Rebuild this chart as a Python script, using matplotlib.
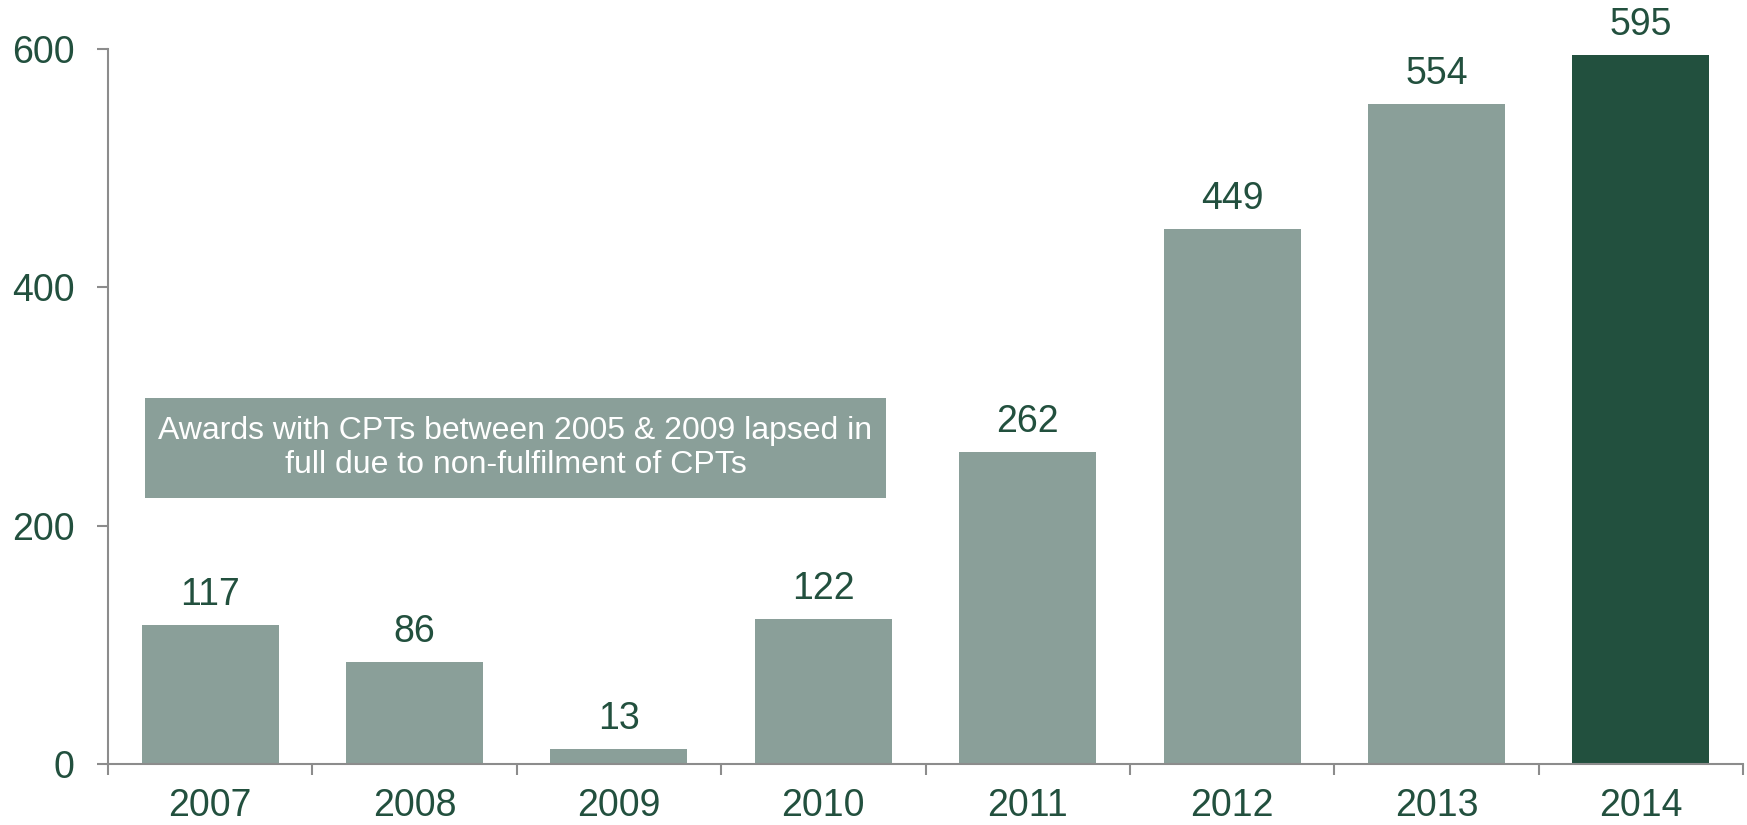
import matplotlib
matplotlib.use("Agg")
import matplotlib.pyplot as plt
from matplotlib.patches import Rectangle

years = ["2007", "2008", "2009", "2010", "2011", "2012", "2013", "2014"]
values = [117, 86, 13, 122, 262, 449, 554, 595]
yticks = [0, 200, 400, 600]
note = "Awards with CPTs between 2005 & 2009 lapsed in\nfull due to non-fulfilment of CPTs"

light = "#8A9F99"
dark = "#22503E"
txt = "#22503E"
spine = "#8C8C8C"

plt.rcParams['font.family'] = ['Liberation Sans', 'DejaVu Sans']

fig = plt.figure(figsize=(17.47, 8.25), dpi=100)
ax = fig.add_axes([108/1747, 1-764/825, (1743-108)/1747, 715/825])

colors = [light]*(len(values)-1) + [dark]
x = list(range(len(values)))
ax.bar(x, values, width=0.67, color=colors, zorder=2)
for xi, v in zip(x, values):
    ax.text(xi, v + 10, str(v), ha='center', va='bottom', fontsize=27, color=txt)

ax.set_xlim(-0.5, len(values)-0.5)
ax.set_ylim(0, 600)
ax.set_yticks(yticks)
ax.set_yticklabels([str(t) for t in yticks], fontsize=27, color=txt)
ax.set_xticks([i - 0.5 for i in range(len(values)+1)])
ax.set_xticklabels([])
ax.set_xticks(x, minor=True)
ax.set_xticklabels(years, minor=True, fontsize=27, color=txt)
ax.tick_params(axis='x', which='minor', length=0, pad=17)
ax.tick_params(axis='x', which='major', length=8, width=1.5, color=spine, direction='out')
ax.tick_params(axis='y', length=8, width=1.5, color=spine, direction='out', pad=16)
for s in ['top', 'right']:
    ax.spines[s].set_visible(False)
for s in ['left', 'bottom']:
    ax.spines[s].set_color(spine)
    ax.spines[s].set_linewidth(1.5)

bx0, bx1, by0, by1 = -0.319, 3.306, 223.2, 307.1
ax.add_patch(Rectangle((bx0, by0), bx1 - bx0, by1 - by0, facecolor=light, edgecolor='none', zorder=3))
ax.text((bx0 + bx1)/2, (by0 + by1)/2, note, ha='center', va='center', fontsize=23,
        color='white', zorder=4, linespacing=1.2)

fig.savefig("out.png", dpi=100)
